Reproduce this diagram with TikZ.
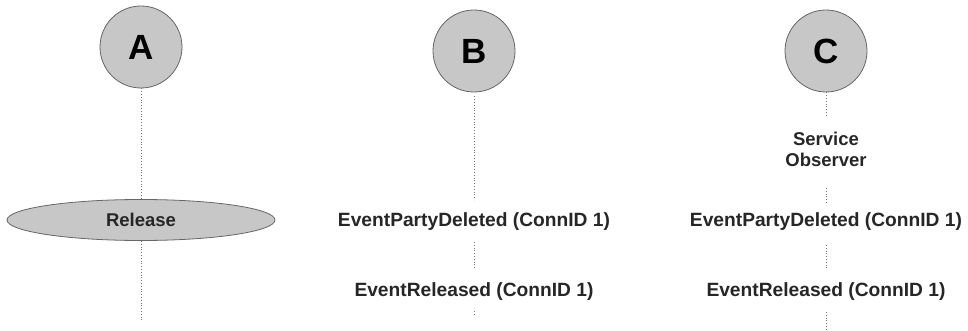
\documentclass[tikz,border=0pt]{standalone}
\usepackage{fontspec}
\setmainfont{Liberation Sans}
\usetikzlibrary{shapes.geometric}
\begin{document}
\begin{tikzpicture}[x=1pt,y=-1pt,
  party/.style={circle,draw=black!60,line width=0.8pt,fill=black!22,minimum size=82pt,inner sep=0pt,font=\fontsize{35}{35}\selectfont\bfseries},
  relbox/.style={ellipse,draw=black!60,line width=0.8pt,fill=black!22,minimum width=268pt,minimum height=41pt,inner sep=0pt,font=\fontsize{18.5}{18.5}\selectfont\bfseries,text=black!85},
  evt/.style={inner sep=0pt,font=\fontsize{19.2}{19.2}\selectfont\bfseries,text=black!85},
  life/.style={draw=black!55,dotted,line width=0.8pt}]
\useasboundingbox (0,0) rectangle (968,331);
% A
\node[party] (A) at (141,47) {A};
\node[relbox] (R) at (141,220) {Release};
\coordinate (Aend) at (141,322);
\draw[life] (A.south) -- (R.north);
\draw[life] (R.south) -- (Aend);
% B
\node[party] (B) at (474,51) {B};
\node[evt] (B1) at (474,222) {EventPartyDeleted (ConnID 1)};
\node[evt] (B2) at (474,292) {EventReleased (ConnID 1)};
\coordinate (Bend) at (474,314);
\draw[life] (B.south) ++(0,4) coordinate (Bs) -- (474,200) coordinate (Bt);
\draw[life] (474,242) coordinate (Bu) -- (474,268) coordinate (Bv);
\draw[life] (474,311) -- (Bend);
% C
\node[party] (C) at (826,51) {C};
\node[evt,align=center,font=\fontsize{18.5}{21}\selectfont\bfseries] (C0) at (826,149) {Service\\Observer};
\node[evt] (C1) at (826,222) {EventPartyDeleted (ConnID 1)};
\node[evt] (C2) at (826,292) {EventReleased (ConnID 1)};
\coordinate (Cend) at (826,331);
\draw[life] (C.south) -- (826,116) coordinate (Ct);
\draw[life] (826,188) coordinate (Cu) -- (826,203) coordinate (Cv);
\draw[life] (826,245) coordinate (Cw) -- (826,270) coordinate (Cx);
\draw[life] (826,312) -- (Cend);
\end{tikzpicture}
\end{document}
